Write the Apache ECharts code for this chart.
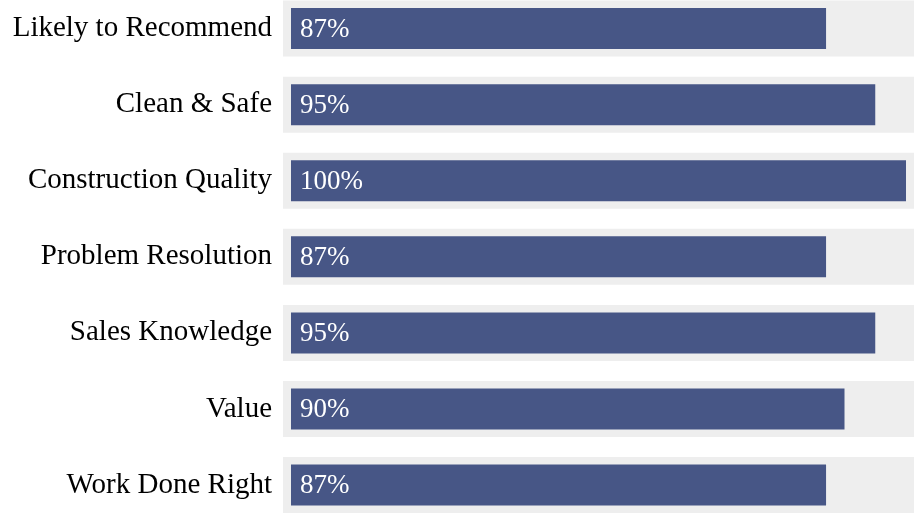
<!DOCTYPE html>
<html>
<head>
<meta charset="utf-8">
<script src="https://cdn.jsdelivr.net/npm/echarts@6/dist/echarts.min.js"></script>
<style>
  html, body { margin: 0; padding: 0; background: #fff; }
  #chart { width: 914px; height: 517px; }
</style>
</head>
<body>
<div id="chart"></div>
<script>
// categories top to bottom
const categories = ['Likely to Recommend', 'Clean & Safe', 'Construction Quality',
  'Problem Resolution', 'Sales Knowledge', 'Value', 'Work Done Right']
const scores = [87, 95, 100, 87, 95, 90, 87]
const backgroundValues = categories.map(() => 1)

const chart = echarts.init(document.getElementById('chart'))

const option = {
  animation: false,
  grid: {
    left: 283,
    right: 0,
    top: -9.5,
    bottom: -6.1,
    containLabel: false,
    outerBoundsMode: 'none'
  },
  xAxis: [
    {
      type: 'value',
      min: -1.3,
      max: 101.3,
      show: false
    },
    {
      type: 'value',
      min: 0,
      max: 1,
      show: false
    }
  ],
  yAxis: [
    {
      type: 'category',
      data: categories,
      inverse: true,
      axisLine: { show: false },
      axisTick: { show: false },
      axisLabel: {
        margin: 11,
        fontFamily: 'Liberation Serif',
        fontSize: 29,
        color: '#000'
      }
    },
    {
      type: 'category',
      data: categories,
      inverse: true,
      show: false
    }
  ],
  series: [
    {
      // gray bands behind each bar
      type: 'bar',
      xAxisIndex: 1,
      yAxisIndex: 1,
      data: backgroundValues,
      barWidth: 56,
      silent: true,
      z: 1,
      itemStyle: { color: '#eeeeee' }
    },
    {
      type: 'bar',
      data: scores,
      barWidth: 41,
      z: 2,
      itemStyle: { color: '#475686' },
      label: {
        show: true,
        position: 'insideLeft',
        distance: 9,
        offset: [0, 1],
        formatter: '{c}%',
        fontFamily: 'Liberation Serif',
        fontSize: 27,
        color: '#fff'
      }
    }
  ]
}

chart.setOption(option)
</script>
</body>
</html>
